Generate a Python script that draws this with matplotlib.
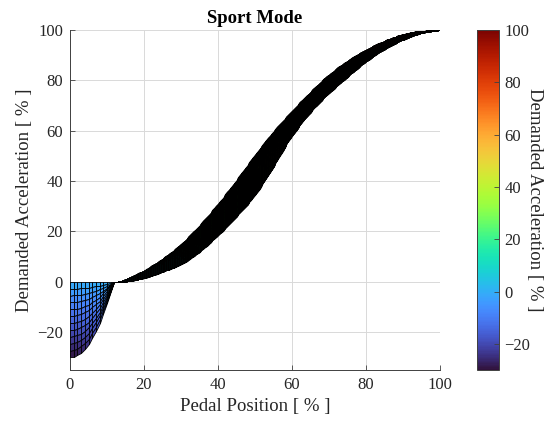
import numpy as np
import matplotlib
matplotlib.use("Agg")
import matplotlib.pyplot as plt
from matplotlib.colors import Normalize
from matplotlib.cm import ScalarMappable

# ---- data (pedal position [%] -> demanded acceleration [%]) ----
pedal_bp = [0, 1, 2, 3, 4, 5, 6, 7, 8, 9, 10, 11, 12, 13, 14, 15,
            20, 25, 30, 35, 40, 45, 50, 55, 60, 65, 70, 75, 80, 85, 90, 95, 100]
# low-speed edge of the map (upper boundary)
accel_low_speed = [0, 0, 0, 0, 0, 0, 0, 0, 0, 0, 0, 0, 0, 0.1, 0.4, 1.0,
                   4.5, 9.2, 15.0, 22.5, 31.0, 40.5, 50.5, 59.8, 67.8, 75.5,
                   82.3, 87.8, 92.2, 95.7, 98.3, 99.7, 100.0]
# high-speed edge of the map (lower boundary)
accel_high_speed = [-30.0, -29.8, -29.2, -28.2, -26.7, -24.8, -22.4, -19.6,
                    -16.3, -12.6, -8.3, -3.6, 0, 0, 0, 0.1,
                    1.5, 4.0, 7.0, 12.0, 18.5, 26.0, 34.5, 46.0, 58.0, 67.5,
                    75.0, 81.5, 87.5, 92.5, 96.2, 98.8, 100.0]
n_speed_rows_neg = 12
n_speed_rows_pos = 80

x_ticks = [0, 20, 40, 60, 80, 100]
y_ticks = [-20, 0, 20, 40, 60, 80, 100]
cbar_ticks = [-20, 0, 20, 40, 60, 80, 100]
clim = (-30, 100)


def pchip(xk, yk, x):
    xk = np.asarray(xk, float)
    yk = np.asarray(yk, float)
    h = np.diff(xk)
    d = np.diff(yk) / h
    m = np.zeros_like(yk)
    for i in range(1, len(xk) - 1):
        if d[i - 1] * d[i] > 0:
            w1 = 2 * h[i] + h[i - 1]
            w2 = h[i] + 2 * h[i - 1]
            m[i] = (w1 + w2) / (w1 / d[i - 1] + w2 / d[i])
    m[0] = d[0]
    m[-1] = d[-1]
    idx = np.clip(np.searchsorted(xk, x, side="right") - 1, 0, len(h) - 1)
    t = (x - xk[idx]) / h[idx]
    h00 = 2 * t**3 - 3 * t**2 + 1
    h10 = t**3 - 2 * t**2 + t
    h01 = -2 * t**3 + 3 * t**2
    h11 = t**3 - t**2
    return h00 * yk[idx] + h10 * h[idx] * m[idx] + h01 * yk[idx + 1] + h11 * h[idx] * m[idx + 1]


plt.rcParams["font.family"] = ["Liberation Serif", "DejaVu Serif"]
plt.rcParams["font.size"] = 12

fig = plt.figure(figsize=(5.47, 4.21), dpi=100)
ax = fig.add_axes([70 / 547, 51 / 421, 370 / 547, 340 / 421])
cax = fig.add_axes([476.5 / 547, 51 / 421, 22.5 / 547, 340 / 421])

norm = Normalize(*clim)
cmap = plt.get_cmap("turbo")


def draw_part(p, nrows, lw):
    w = np.linspace(0, 1, nrows)[:, None]
    lo = pchip(pedal_bp, accel_low_speed, p)
    hi = pchip(pedal_bp, accel_high_speed, p)
    Z = lo[None, :] + w * (hi - lo)[None, :]
    X = np.broadcast_to(p[None, :], Z.shape)
    C = 0.25 * (Z[:-1, :-1] + Z[1:, :-1] + Z[:-1, 1:] + Z[1:, 1:])
    mesh = ax.pcolormesh(X, Z, C, cmap=cmap, norm=norm, shading="flat",
                         edgecolors="k", linewidth=lw, zorder=3, antialiased=True)
    mesh.set_joinstyle("round")
    mesh.set_capstyle("round")
    return mesh


draw_part(np.arange(0, 13.01, 1.0), n_speed_rows_neg, 0.6)
draw_part(np.arange(12, 100.001, 0.5), n_speed_rows_pos, 0.7)

ax.set_xlim(0, 100)
ax.set_ylim(-35, 100)
ax.set_xticks(x_ticks)
ax.set_yticks(y_ticks)
ax.grid(True, color="#d9d9d9", linewidth=0.7, zorder=0)
ax.set_axisbelow(True)
for s in ["top", "right"]:
    ax.spines[s].set_visible(False)
for s in ["left", "bottom"]:
    ax.spines[s].set_color("#404040")
    ax.spines[s].set_linewidth(0.7)
ax.tick_params(direction="in", length=3.5, width=0.6, color="#404040",
               labelcolor="#262626", pad=5, labelsize=12)
ax.set_xlabel("Pedal Position [ % ]", color="#262626", labelpad=4, fontsize=13.5)
ax.set_ylabel("Demanded Acceleration [ % ]", color="#262626", labelpad=3, fontsize=13.5)
ax.set_title("Sport Mode", fontweight="bold", color="#000000", pad=5, fontsize=13.5)

sm = ScalarMappable(norm=norm, cmap=cmap)
cb = fig.colorbar(sm, cax=cax)
cb.set_ticks(cbar_ticks)
cb.outline.set_edgecolor("#404040")
cb.outline.set_linewidth(0.7)
cax.tick_params(direction="in", length=3.5, width=0.6, color="#404040",
                labelcolor="#262626", pad=4, labelsize=12)
cb.set_label("Demanded Acceleration [ % ]", rotation=270, labelpad=9,
             color="#262626", fontsize=13.5)

fig.savefig("out.png", dpi=100)
